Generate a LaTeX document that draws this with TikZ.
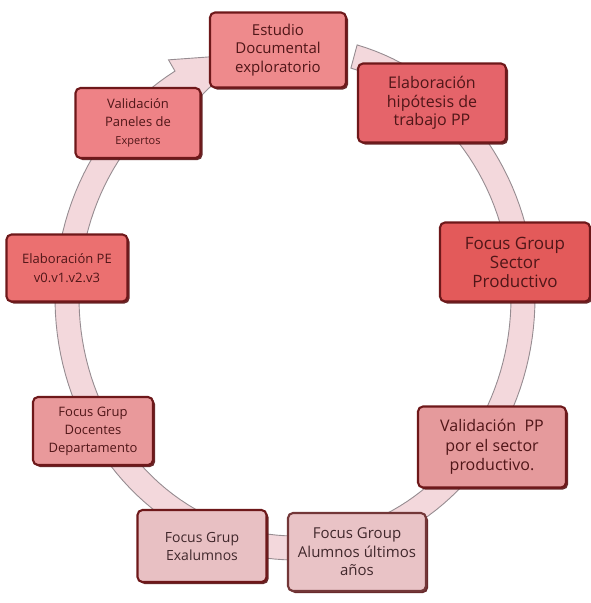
\documentclass[tikz,border=0pt]{standalone}
\usepackage{fontspec}
\setmainfont{Open Sans}
\usetikzlibrary{shadows}
\definecolor{bord}{RGB}{110,24,26}
\definecolor{txt}{RGB}{80,22,24}
\definecolor{txtg}{RGB}{65,40,44}
\definecolor{ringfill}{RGB}{243,216,220}
\definecolor{ringline}{RGB}{150,140,145}
\definecolor{c1}{RGB}{238,138,140}
\definecolor{c2}{RGB}{229,100,106}
\definecolor{c3}{RGB}{227,90,90}
\definecolor{c4}{RGB}{229,154,156}
\definecolor{c5}{RGB}{233,195,198}
\definecolor{c6}{RGB}{232,192,195}
\definecolor{c7}{RGB}{233,153,155}
\definecolor{c8}{RGB}{235,112,112}
\definecolor{c9}{RGB}{238,130,134}
\tikzset{
  stagebox/.style={rounded corners=5pt, draw=bord, line width=2.1pt, align=center,
    inner sep=0pt, text=txt,
    drop shadow={shadow xshift=2pt, shadow yshift=-2pt, fill=bord!80!black, opacity=0.9}},
  ring/.style={fill=ringfill, draw=ringline, line width=0.9pt}
}
\newcommand{\fs}[2]{\fontsize{#1}{#2}\selectfont}
\begin{document}
\begin{tikzpicture}[x=1pt,y=-1pt]
\useasboundingbox (0,0) rectangle (591,603);
% ring arrow
\path[ring] plot[domain=-75:240, samples=140] ({295+240*cos(\x)},{298+262*sin(\x)})
  -- ({295+253*cos(240)},{298+275*sin(240)})
  -- ({295+228*cos(257)},{298+250*sin(257)})
  -- ({295+203*cos(240)},{298+225*sin(240)})
  -- plot[domain=240:-75, samples=140] ({295+216*cos(\x)},{298+238*sin(\x)})
  -- cycle;
% boxes
\node[stagebox, fill=c1, minimum width=136, minimum height=75, font=\fs{15}{18.5}] (b1) at (278,50)
  {Estudio\\Documental\\exploratorio};
\node[stagebox, fill=c2, minimum width=148, minimum height=79, font=\fs{16}{18.5}] (b2) at (432,103)
  {Elaboración\\hipótesis de\\trabajo PP};
\node[stagebox, fill=c3, minimum width=150, minimum height=79, font=\fs{17}{19}] (b3) at (515,262)
  {Focus Group\\Sector\\Productivo};
\node[stagebox, fill=c4, minimum width=148, minimum height=81, font=\fs{16}{19.5}] (b4) at (492,447)
  {Validación~~PP\\por el sector\\productivo.};
\node[stagebox, fill=c5, draw=bord!70!gray, minimum width=138, minimum height=78, font=\fs{15}{18.5}, text=txtg] (b5) at (357,552)
  {Focus Group\\Alumnos últimos\\años};
\node[stagebox, fill=c6, minimum width=129, minimum height=72, font=\fs{14}{18}, text=txtg] (b6) at (202,546)
  {Focus Grup\\Exalumnos};
\node[stagebox, fill=c7, minimum width=120, minimum height=68, font=\fs{13}{18}] (b7) at (93,431)
  {Focus Grup\\Docentes\\Departamento};
\node[stagebox, fill=c8, minimum width=121, minimum height=67, font=\fs{13}{19}] (b8) at (67,268)
  {Elaboración PE\\v0.v1.v2.v3};
\node[stagebox, fill=c9, minimum width=125, minimum height=70, font=\fs{13}{18}] (b9) at (138,123)
  {Validación\\Paneles de\\{\fs{11}{18}Expertos}};
\end{tikzpicture}
\end{document}
